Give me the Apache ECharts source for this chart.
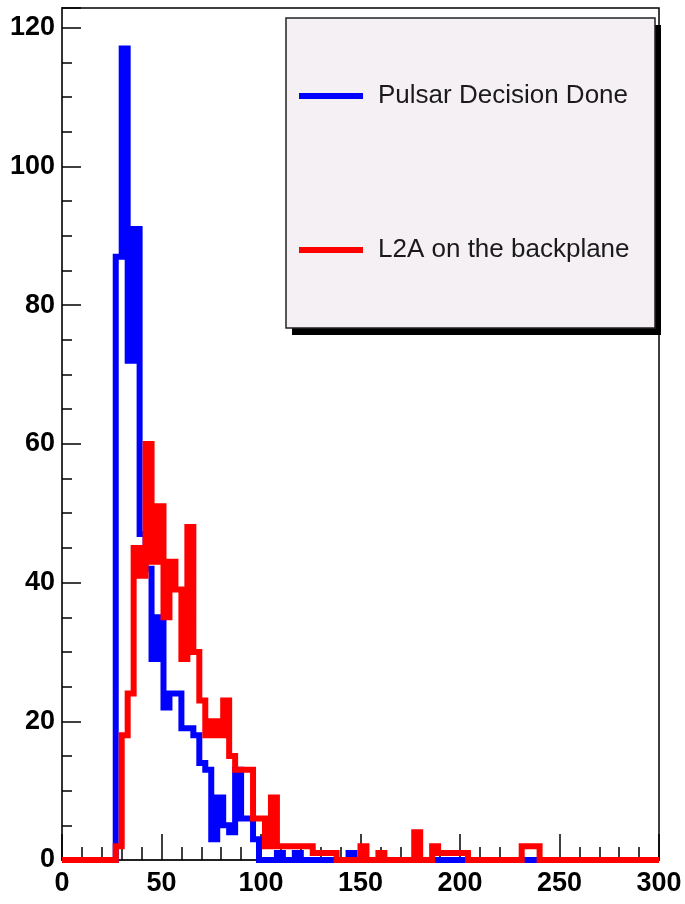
<!DOCTYPE html>
<html><head><meta charset="utf-8">
<script src="https://cdn.jsdelivr.net/npm/echarts@6/dist/echarts.min.js"></script>
<style>html,body{margin:0;padding:0;background:#fff}#c{width:685px;height:904px}</style>
</head><body><div id="c"></div>
<script>
// ---- data (100 bins of width 3 over 0..300) ----
const xTickLabels = ['0', '50', '100', '150', '200', '250', '300'];
const yTickLabels = ['0', '20', '40', '60', '80', '100', '120'];
const binWidth = 3;
const seriesNames = ['Pulsar Decision Done', 'L2A on the backplane'];
const pulsarCounts = [
  0, 0, 0, 0, 0, 0, 0, 0, 0, 87,
  117, 72, 91, 47, 42, 29, 35, 22, 24, 24,
  19, 19, 18, 14, 13, 3, 9, 5, 4, 13,
  6, 6, 3, 0, 0, 0, 1, 0, 0, 1,
  0, 0, 0, 0, 0, 0, 0, 0, 1, 0,
  0, 0, 0, 0, 0, 0, 0, 0, 0, 0,
  0, 0, 0, 0, 0, 0, 0, 0, 0, 0,
  0, 0, 0, 0, 0, 0, 0, 0, 0, 0,
  0, 0, 0, 0, 0, 0, 0, 0, 0, 0,
  0, 0, 0, 0, 0, 0, 0, 0, 0, 0
];
const l2aCounts = [
  0, 0, 0, 0, 0, 0, 0, 0, 0, 2,
  18, 24, 45, 41, 60, 43, 51, 35, 43, 39,
  29, 48, 30, 23, 18, 20, 18, 23, 15, 13,
  13, 13, 6, 6, 2, 9, 2, 2, 2, 2,
  2, 2, 1, 1, 1, 1, 0, 0, 0, 0,
  2, 0, 0, 1, 0, 0, 0, 0, 0, 4,
  0, 0, 2, 1, 1, 1, 1, 1, 0, 0,
  0, 0, 0, 0, 0, 0, 0, 2, 2, 2,
  0, 0, 0, 0, 0, 0, 0, 0, 0, 0,
  0, 0, 0, 0, 0, 0, 0, 0, 0, 0
];

function toSteps(counts) {
  const d = counts.map((v, i) => [i * binWidth, v]);
  d.push([counts.length * binWidth, counts[counts.length - 1]]);
  return d;
}

const FONT = 'Liberation Sans';
const chart = echarts.init(document.getElementById('c'), null, { renderer: 'canvas' });
chart.setOption({
  animation: false,
  backgroundColor: '#ffffff',
  grid: { left: 62, right: 26, top: 8, bottom: 44, show: true, borderColor: '#000', borderWidth: 1.5, backgroundColor: '#fff' },
  xAxis: {
    type: 'value', min: 0, max: 300, interval: 50,
    axisLine: { show: true, onZero: false, lineStyle: { color: '#222', width: 2 } },
    axisTick: { show: true, inside: true, length: 26, lineStyle: { color: '#000', width: 1.5 } },
    minorTick: { show: true, splitNumber: 5, length: 13, lineStyle: { color: '#000', width: 1.5 } },
    splitLine: { show: false }, minorSplitLine: { show: false },
    axisLabel: {
      color: '#000', fontSize: 27, fontWeight: 'bold', fontFamily: FONT, margin: 10,
      formatter: v => (xTickLabels.includes(String(v)) ? String(v) : '')
    }
  },
  yAxis: [{
    type: 'value', min: 0, max: 122.85, interval: 20,
    axisLine: { show: true, onZero: false, lineStyle: { color: '#333', width: 2 } },
    axisTick: { show: true, inside: true, length: 19, lineStyle: { color: '#000', width: 1.5 } },
    splitLine: { show: false },
    axisLabel: {
      color: '#000', fontSize: 27, fontWeight: 'bold', fontFamily: FONT, margin: 7,
      formatter: v => (yTickLabels.includes(String(v)) ? String(v) : '')
    }
  }, {
    type: 'value', min: 0, max: 122.85, interval: 5, position: 'left',
    axisLine: { show: false },
    axisTick: { show: true, inside: true, length: 10, lineStyle: { color: '#000', width: 1.5 } },
    splitLine: { show: false },
    axisLabel: { show: false }
  }],
  graphic: [{
    type: 'rect', z: 3,
    shape: { x: 292, y: 25, width: 369, height: 310 },
    style: { fill: '#000', stroke: null }
  }, {
    type: 'rect', z: 3,
    shape: { x: 286, y: 18, width: 369, height: 310 },
    style: { fill: '#f5f0f4', stroke: '#222', lineWidth: 1.5 }
  }],
  legend: [{
    data: [seriesNames[0]], orient: 'vertical', left: 299, top: 83, padding: 0,
    icon: 'rect', itemWidth: 64, itemHeight: 6,
    textStyle: { color: '#1a1a1a', fontSize: 26, fontFamily: FONT, padding: [0, 0, 8, 10] }
  }, {
    data: [seriesNames[1]], orient: 'vertical', left: 299, top: 237, padding: 0,
    icon: 'rect', itemWidth: 64, itemHeight: 6,
    textStyle: { color: '#1a1a1a', fontSize: 26, fontFamily: FONT, padding: [0, 0, 4, 10] }
  }],
  series: [{
    name: seriesNames[0], type: 'line', step: 'end', data: toSteps(pulsarCounts),
    showSymbol: false, symbol: 'none', clip: false,
    lineStyle: { color: '#0000ff', width: 6, join: 'miter' }, itemStyle: { color: '#0000ff' }
  }, {
    name: seriesNames[1], type: 'line', step: 'end', data: toSteps(l2aCounts),
    showSymbol: false, symbol: 'none', clip: false,
    lineStyle: { color: '#ff0000', width: 6, join: 'miter' }, itemStyle: { color: '#ff0000' }
  }]
});
</script></body></html>
